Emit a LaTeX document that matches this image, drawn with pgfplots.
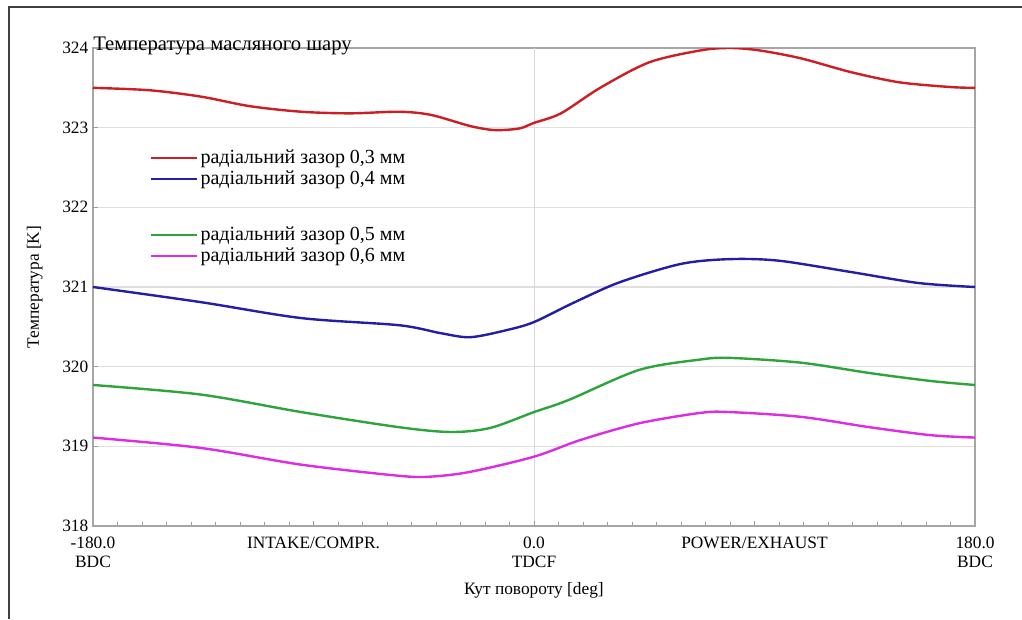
\documentclass[border=0pt]{standalone}
\usepackage{pgfplots}
\pgfplotsset{compat=1.18}
\usepackage{fontspec}
\setmainfont{Liberation Serif}
\definecolor{cred}{RGB}{205,30,35}
\definecolor{cblue}{RGB}{35,30,165}
\definecolor{cgreen}{RGB}{45,165,60}
\definecolor{cmag}{RGB}{220,45,225}
\begin{document}
\begin{tikzpicture}[x=1pt,y=1pt]
\useasboundingbox (0,0) rectangle (766.5,464.25);
\draw[line width=1.1pt, black!75] (6.75,0) -- (6.75,459) -- (766.5,459);
\begin{axis}[
  at={(69.75pt,69.75pt)}, anchor=south west,
  scale only axis, width=661.5pt, height=358.5pt,
  xmin=-180, xmax=180, ymin=318, ymax=324,
  clip mode=individual,
  /pgf/number format/assume math mode=true,
  axis line style={black!35, line width=0.9pt},
  xtick={-180,-90,0,90,180},
  xticklabels={{-180.0\\BDC},{INTAKE/COMPR.},{0.0\\TDCF},{POWER/EXHAUST},{180.0\\BDC}},
  xticklabel style={align=center, font=\fontsize{13}{14.5}\selectfont, yshift=-4.75pt},
  minor xtick={-170,-160,...,170},
  extra x ticks={0}, extra x tick labels={},
  extra x tick style={grid=major, major grid style={black!15, line width=0.6pt}},
  ytick={318,319,...,324},
  yticklabel style={font=\fontsize{13}{15}\selectfont},
  ymajorgrids, major grid style={black!12, line width=0.8pt},
  tick pos=left, tick align=inside,
  tick style={black!40, line width=0.6pt},
  major tick length=4pt, minor tick length=3pt,
  xlabel={Кут повороту [deg]}, ylabel={Температура [K]},
  label style={font=\fontsize{13}{15}\selectfont},
  xlabel style={at={(axis description cs:0.5,-0.134)}, anchor=center},
  ylabel style={at={(axis description cs:-0.066,0.5)}, anchor=center},
  legend style={draw=none, fill=none, at={(axis description cs:0.063,0.795)}, anchor=north west,
    font=\fontsize{15}{17}\selectfont, row sep=0pt, inner sep=1pt},
  legend cell align=left,
  legend image code/.code={\draw[#1, line width=1.8pt] (0pt,0pt) -- (34pt,0pt);},
  every axis plot/.append style={line width=1.8pt},
]
\addplot[cred, smooth] coordinates {
(-180,323.50) (-157,323.47) (-136,323.39) (-116,323.27) (-95,323.20) (-75,323.18)
(-55,323.20) (-42,323.16) (-26,323.02) (-16,322.97) (-6,322.99) (0,323.06) (11,323.18)
(27,323.50) (47,323.82) (68,323.97) (80,324.0) (92,323.97) (109,323.87) (129,323.70)
(149,323.57) (170,323.51) (180,323.50)};
\addlegendentry{радіальний зазор 0,3 мм}
\addplot[cblue, smooth] coordinates {
(-180,321.0) (-136,320.81) (-95,320.61) (-55,320.52) (-38,320.42) (-26,320.37)
(-11,320.46) (0,320.56) (16,320.80) (35,321.06) (60,321.29) (80,321.35) (100,321.33)
(129,321.19) (157,321.05) (180,321.0)};
\addlegendentry{радіальний зазор 0,4 мм}
\addlegendimage{empty legend}
\addlegendentry{\rule[-15pt]{0pt}{35.5pt}}
\addplot[cgreen, smooth] coordinates {
(-180,319.77) (-136,319.65) (-95,319.43) (-55,319.24) (-34,319.18) (-18,319.23)
(0,319.43) (14,319.58) (43,319.96) (68,320.09) (80,320.11) (109,320.05) (137,319.92)
(162,319.82) (180,319.77)};
\addlegendentry{радіальний зазор 0,5 мм}
\addplot[cmag, smooth] coordinates {
(-180,319.11) (-136,318.98) (-95,318.77) (-55,318.63) (-42,318.62) (-26,318.68)
(0,318.87) (19,319.08) (43,319.29) (68,319.42) (80,319.43) (109,319.37) (137,319.24)
(162,319.14) (180,319.11)};
\addlegendentry{радіальний зазор 0,6 мм}
\node[anchor=base west, inner sep=0pt, font=\fontsize{15.5}{17}\selectfont] at (rel axis cs:0,1) [yshift=-2pt] {Температура масляного шару};
\end{axis}
\end{tikzpicture}
\end{document}
